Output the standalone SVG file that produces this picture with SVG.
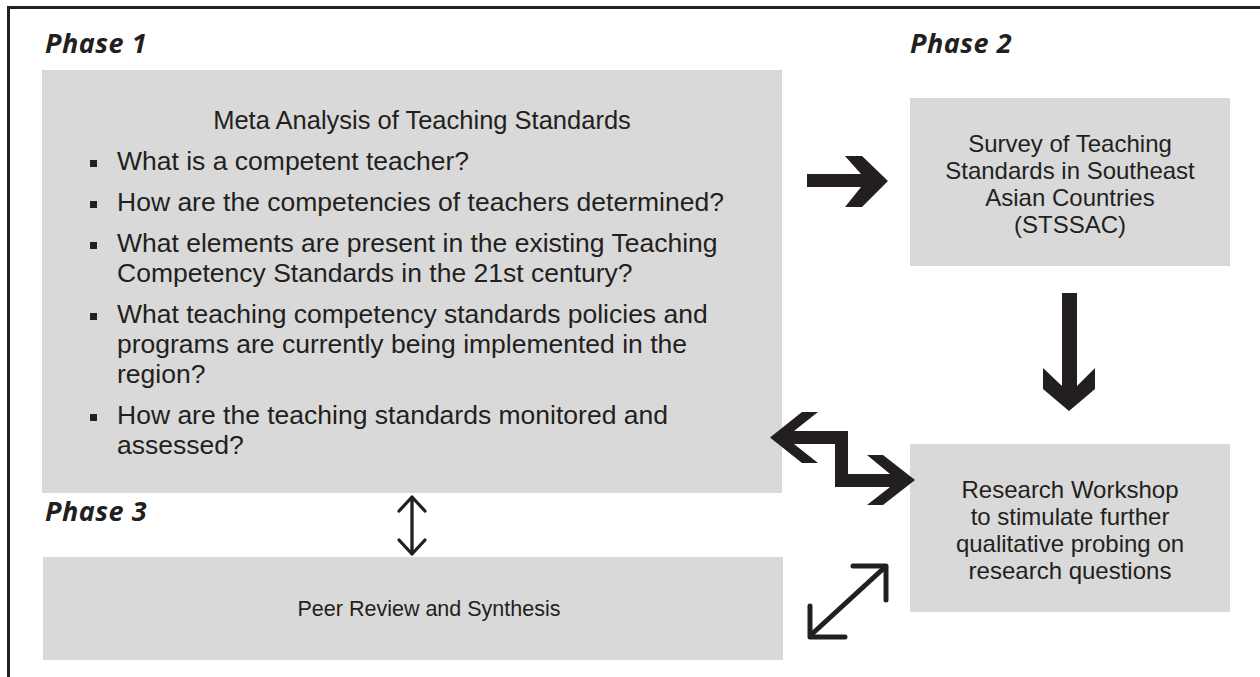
<svg xmlns="http://www.w3.org/2000/svg" width="1260" height="677" viewBox="0 0 1260 677">
<style>
.box{fill:#d9d9d9}
.ph{font-family:"Open Sans","Liberation Sans",sans-serif;font-weight:bold;font-style:italic;font-size:27px;letter-spacing:0.5px;fill:#231f20}
.t{font-family:"Liberation Sans",Arial,sans-serif;font-size:26.5px;fill:#231f20}
.s{font-family:"Liberation Sans",Arial,sans-serif;font-size:24px;fill:#231f20;text-anchor:middle}
.c{text-anchor:middle}
.thick{fill:#231f20}
.thin{fill:none;stroke:#231f20;stroke-linecap:round;stroke-linejoin:round}
</style>
<rect width="1260" height="677" fill="#ffffff"/>
<g id="frame">
<line x1="7" y1="7.5" x2="1260" y2="7.5" stroke="#231f20" stroke-width="3"/>
<line x1="8.5" y1="6" x2="8.5" y2="677" stroke="#231f20" stroke-width="3"/>
</g>
<text class="ph" x="45" y="53">Phase 1</text>
<text class="ph" x="910" y="53">Phase 2</text>
<text class="ph" x="45" y="521">Phase 3</text>
<g id="phase1">
<rect class="box" x="42" y="70" width="740" height="423"/>
<text class="t c" x="422" y="129" style="font-size:25.5px">Meta Analysis of Teaching Standards</text>
<rect class="thick" x="90" y="160" width="7" height="7"/>
<text class="t" x="117" y="170">What is a competent teacher?</text>
<rect class="thick" x="90" y="201" width="7" height="7"/>
<text class="t" x="117" y="211">How are the competencies of teachers determined?</text>
<rect class="thick" x="90" y="242" width="7" height="7"/>
<text class="t" x="117" y="252">What elements are present in the existing Teaching</text>
<text class="t" x="117" y="282">Competency Standards in the 21st century?</text>
<rect class="thick" x="90" y="313" width="7" height="7"/>
<text class="t" x="117" y="323">What teaching competency standards policies and</text>
<text class="t" x="117" y="353">programs are currently being implemented in the</text>
<text class="t" x="117" y="383">region?</text>
<rect class="thick" x="90" y="414" width="7" height="7"/>
<text class="t" x="117" y="424">How are the teaching standards monitored and</text>
<text class="t" x="117" y="454">assessed?</text>
</g>
<g id="phase2">
<rect class="box" x="910" y="98" width="320" height="168"/>
<text class="s" x="1070" y="152">Survey of Teaching</text>
<text class="s" x="1070" y="179">Standards in Southeast</text>
<text class="s" x="1070" y="206">Asian Countries</text>
<text class="s" x="1070" y="233">(STSSAC)</text>
</g>
<g id="workshop">
<rect class="box" x="910" y="444" width="320" height="168"/>
<text class="s" x="1070" y="498">Research Workshop</text>
<text class="s" x="1070" y="525">to stimulate further</text>
<text class="s" x="1070" y="552">qualitative probing on</text>
<text class="s" x="1070" y="579">research questions</text>
</g>
<g id="phase3">
<rect class="box" x="43" y="557" width="740" height="103"/>
<text class="s" x="429" y="616" style="font-size:21.5px">Peer Review and Synthesis</text>
</g>
<g id="connectors">
<polygon class="thick" points="807,174 861,174 845,156 862,156 888,181 862,207 845,207 861,187 807,187"/>
<polygon class="thick" points="1062,293 1077,293 1077,386 1095,368 1095,389 1069,411 1043,389 1043,368 1062,386"/>
<path class="thick" d="M770,437.5 L802,412 L818,412 L794,431 L848,431 L848,474 L890,474 L867,455 L883,455 L915,480 L883,505 L867,505 L890,487 L835,487 L835,444 L794,444 L818,463 L802,463 Z"/>
<g class="thin" stroke-width="5">
<line x1="812" y1="634" x2="884" y2="568"/>
<polyline points="853,566 886,566 886,600"/>
<polyline points="810,606 810,637 845,637"/>
</g>
<g class="thin" stroke-width="3.3">
<line x1="412" y1="498" x2="412" y2="553"/>
<polyline points="399,511 412,497 425,511"/>
<polyline points="399,540 412,554 425,540"/>
</g>
</g>
</svg>
